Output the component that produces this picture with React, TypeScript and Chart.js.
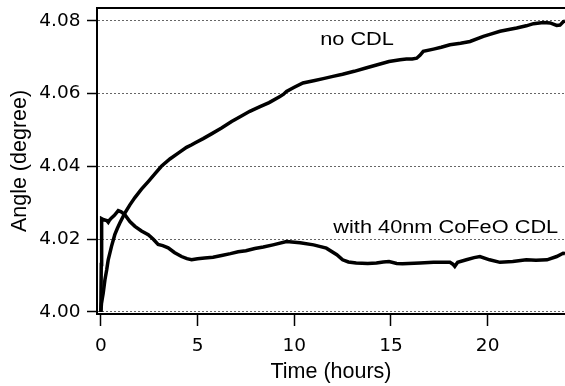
import { useEffect, useRef } from "react";
import { Chart, registerables } from "chart.js";

Chart.register(...registerables);

// ---- data ----
const timeNoCDL = [0, 0.03, 0.07, 0.12, 0.21, 0.3, 0.38, 0.55, 0.72, 0.85, 0.98, 1.24, 1.5, 1.76, 2.1, 2.45, 2.79, 3.13, 3.57, 4.0, 4.43, 4.7, 4.86, 5.29, 5.72, 6.24, 6.76, 7.2, 7.7, 8.2, 8.7, 9.26, 9.45, 9.6, 10.0, 10.45, 11.0, 11.5, 12.0, 12.5, 13.1, 13.7, 14.3, 14.9, 15.47, 15.8, 16.1, 16.33, 16.5, 16.67, 17.2, 17.6, 18.05, 18.6, 19.09, 19.78, 20.2, 20.64, 21.1, 21.5, 22.0, 22.37, 22.88, 23.23, 23.57, 23.74, 23.92, 24.0];
const angleNoCDL = [4.0, 4.0022, 4.0035, 4.0051, 4.0088, 4.0115, 4.0143, 4.018, 4.0212, 4.0229, 4.0244, 4.0271, 4.0294, 4.0314, 4.0337, 4.0358, 4.0379, 4.04, 4.042, 4.0436, 4.0452, 4.0459, 4.0464, 4.0476, 4.0489, 4.0505, 4.0523, 4.0536, 4.0551, 4.0563, 4.0575, 4.0592, 4.0598, 4.0606, 4.0617, 4.0629, 4.0635, 4.0641, 4.0647, 4.0653, 4.0661, 4.067, 4.0679, 4.0688, 4.0693, 4.0695, 4.0695, 4.0697, 4.0705, 4.0716, 4.0722, 4.0727, 4.0734, 4.0738, 4.0743, 4.0757, 4.0764, 4.0771, 4.0776, 4.078, 4.0786, 4.0792, 4.0795, 4.0794, 4.0787, 4.0788, 4.0798, 4.0799];

const timeCDL = [0, 0.02, 0.04, 0.15, 0.3, 0.38, 0.45, 0.55, 0.7, 0.9, 1.05, 1.24, 1.5, 1.76, 2.1, 2.45, 2.7, 2.96, 3.2, 3.48, 3.8, 4.17, 4.45, 4.69, 5.0, 5.37, 5.8, 6.24, 6.7, 7.1, 7.5, 7.96, 8.4, 8.9, 9.6, 10.3, 11.0, 11.66, 12.2, 12.5, 12.8, 13.2, 13.8, 14.25, 14.6, 14.9, 15.3, 15.6, 16.5, 17.2, 18.05, 18.2, 18.3, 18.45, 18.9, 19.3, 19.6, 20.1, 20.64, 21.3, 22.0, 22.5, 23.07, 23.57, 23.9, 24.0];
const angleCDL = [4.0, 4.013, 4.0256, 4.0253, 4.0251, 4.0246, 4.0252, 4.0258, 4.0265, 4.0278, 4.0275, 4.0267, 4.0248, 4.0235, 4.0222, 4.0212, 4.02, 4.0185, 4.0182, 4.0176, 4.0163, 4.0152, 4.0146, 4.0143, 4.0146, 4.0148, 4.015, 4.0155, 4.016, 4.0165, 4.0168, 4.0174, 4.0178, 4.0184, 4.0193, 4.019, 4.0184, 4.0175, 4.0157, 4.0143, 4.0137, 4.0134, 4.0133, 4.0134, 4.0137, 4.0138, 4.0133, 4.0132, 4.0134, 4.0136, 4.0136, 4.0131, 4.0125, 4.0136, 4.0143, 4.0149, 4.0152, 4.0143, 4.0136, 4.0138, 4.0143, 4.0142, 4.0143, 4.0152, 4.0161, 4.016];

const xTicks = [0, 5, 10, 15, 20];
const yTicks = [4.0, 4.02, 4.04, 4.06, 4.08];

const labelTexts = ["no CDL", "with 40nm CoFeO CDL"];
const labelTimes = [11.34, 12.02];
const labelAngles = [4.0734, 4.0216];

const xTitle = "Time (hours)";
const yTitle = "Angle (degree)";

const TICK_FONT = "'DejaVu Sans'";
const TITLE_FONT = "'Liberation Sans'";

export default function App() {
  const ref = useRef<HTMLCanvasElement | null>(null);

  useEffect(() => {
    if (!ref.current) return;

    const framePlugin = {
      id: "frameTop",
      afterDraw(chart: any) {
        const { ctx, chartArea } = chart;
        ctx.save();
        ctx.strokeStyle = "#000";
        ctx.lineWidth = 2;
        ctx.beginPath();
        ctx.moveTo(chartArea.left - 1, chartArea.top);
        ctx.lineTo(chartArea.right, chartArea.top);
        ctx.stroke();
        ctx.restore();
      },
    };

    const labelPlugin = {
      id: "curveLabels",
      afterDatasetsDraw(chart: any) {
        const { ctx } = chart;
        const xs = chart.scales.x;
        const ys = chart.scales.y;
        ctx.save();
        ctx.fillStyle = "#000";
        ctx.font = `18.3px ${TITLE_FONT}`;
        ctx.textAlign = "left";
        ctx.textBaseline = "alphabetic";
        labelTexts.forEach((t, i) => {
          const px = xs.getPixelForValue(labelTimes[i]);
          const py = ys.getPixelForValue(labelAngles[i]);
          ctx.save();
          ctx.translate(px, py);
          ctx.scale(1.19, 1);
          ctx.fillText(t, 0, 0);
          ctx.restore();
        });
        ctx.restore();
      },
    };

    const chart = new Chart(ref.current, {
      type: "line",
      data: {
        datasets: [
          {
            label: "no CDL",
            data: timeNoCDL.map((t, i) => ({ x: t, y: angleNoCDL[i] })),
            borderColor: "#000",
            borderWidth: 3.5,
            pointRadius: 0,
            fill: false,
            tension: 0,
          },
          {
            label: "with 40nm CoFeO CDL",
            data: timeCDL.map((t, i) => ({ x: t, y: angleCDL[i] })),
            borderColor: "#000",
            borderWidth: 3.5,
            pointRadius: 0,
            fill: false,
            tension: 0,
          },
        ],
      },
      options: {
        animation: false,
        responsive: false,
        events: [],
        layout: { padding: { top: 8, left: 0, right: 0, bottom: 0 } },
        plugins: {
          legend: { display: false },
          tooltip: { enabled: false },
        },
        scales: {
          x: {
            type: "linear",
            min: -0.2,
            max: 24,
            afterBuildTicks: (s: any) => {
              s.ticks = xTicks.map((v) => ({ value: v }));
            },
            afterFit: (s: any) => {
              s.height = 72;
              s.paddingLeft = 0;
              s.paddingRight = 0;
            },
            ticks: {
              font: { family: TICK_FONT, size: 18.5 },
              color: "#000",
              padding: 9,
              maxRotation: 0,
              autoSkip: false,
            },
            grid: {
              drawOnChartArea: false,
              drawTicks: true,
              tickLength: 12,
              tickColor: "#000",
              tickWidth: 1.5,
            },
            border: { display: true, color: "#000", width: 2 },
            title: {
              display: true,
              text: xTitle,
              color: "#000",
              font: { family: TITLE_FONT, size: 21.5 },
              padding: { top: 0, bottom: 1 },
            },
          },
          y: {
            type: "linear",
            min: 3.9994,
            max: 4.0835,
            afterBuildTicks: (s: any) => {
              s.ticks = yTicks.map((v) => ({ value: v }));
            },
            afterFit: (s: any) => {
              s.width = 97;
              s.paddingTop = 0;
              s.paddingBottom = 0;
            },
            ticks: {
              font: { family: TICK_FONT, size: 18.5 },
              color: "#000",
              padding: 6.5,
              callback: (v: any) => Number(v).toFixed(2),
            },
            grid: {
              color: "#666",
              lineWidth: 1,
              drawTicks: true,
              tickLength: 10,
              tickColor: "#000",
              tickWidth: 1.5,
              tickBorderDash: [],
            },
            border: { display: true, color: "#000", width: 2, dash: [2, 2] },
            title: {
              display: true,
              text: yTitle,
              color: "#000",
              font: { family: TITLE_FONT, size: 21.5 },
              padding: { top: 7, bottom: 0 },
            },
          },
        },
      },
      plugins: [framePlugin, labelPlugin],
    } as any);

    return () => chart.destroy();
  }, []);

  return (
    <div style={{ position: "fixed", left: 0, top: 0, width: 565, height: 386, background: "#fff" }}>
      <canvas ref={ref} width={565} height={386} style={{ width: 565, height: 386, display: "block" }} />
    </div>
  );
}
